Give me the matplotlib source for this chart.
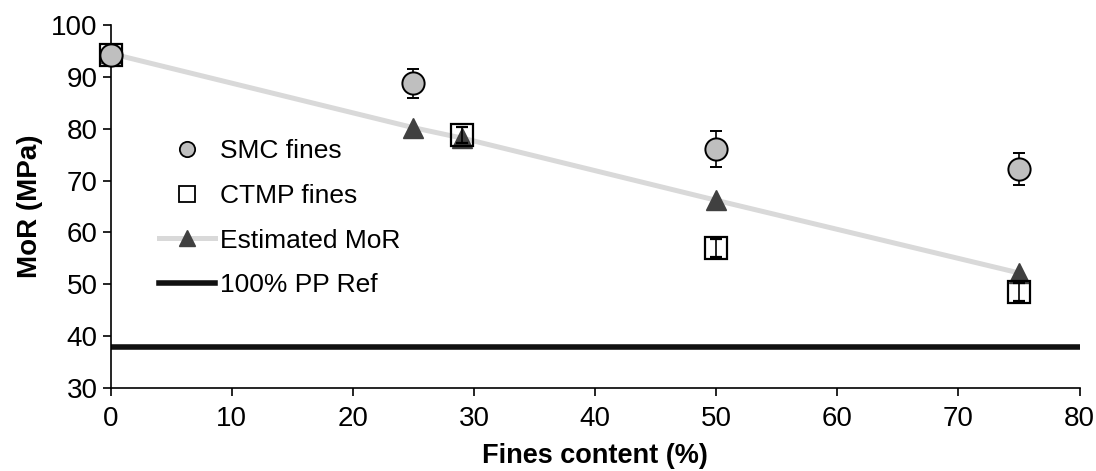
import numpy as np
import matplotlib.pyplot as plt

plt.rcParams['font.family'] = ['Liberation Sans', 'DejaVu Sans']

# measured values
smc_x = [0, 25, 50, 75]
smc_y = [94.2, 88.8, 76.1, 72.3]
smc_err = [0.0, 2.8, 3.4, 3.1]

ctmp_x = [0, 29, 50, 75]
ctmp_y = [94.2, 78.8, 57.0, 48.6]
ctmp_err = [0.0, 1.5, 1.7, 1.75]

est_x = [0, 25, 29, 50, 75]
est_y = [94.5, 80.2, 78.2, 66.2, 52.2]

pp_x = [0, 80]
pp_y = [38, 38]

fig = plt.figure(figsize=(10.96, 4.71), dpi=100)
ax = fig.add_axes([0.101, 0.176, 0.884, 0.771])

# estimated MoR line + triangles
ax.plot(est_x, est_y, color='#d9d9d9', linewidth=3.6, zorder=2)
ax.plot(est_x, est_y, linestyle='none', marker='^', markersize=14,
        color='#404040', zorder=3, clip_on=False)
ax.plot(pp_x, pp_y, color='#111111', linewidth=4, zorder=2, solid_capstyle='butt')

ax.errorbar(smc_x, smc_y, yerr=smc_err, fmt='o', markersize=16,
            markerfacecolor='#bfbfbf', markeredgecolor='black', markeredgewidth=1.4,
            ecolor='black', elinewidth=1.2, capsize=4, capthick=1.2, zorder=4,
            clip_on=False)
ax.errorbar(ctmp_x, ctmp_y, yerr=ctmp_err, fmt='s', markersize=16,
            markerfacecolor='none', markeredgecolor='black', markeredgewidth=1.6,
            ecolor='black', elinewidth=1.2, capsize=4, capthick=1.2, zorder=3.5,
            clip_on=False)

# legend proxies
h1, = ax.plot([], [], 'o', markersize=11, markerfacecolor='#bfbfbf',
              markeredgecolor='black', markeredgewidth=1.3)
h2, = ax.plot([], [], 's', markersize=11, markerfacecolor='white',
              markeredgecolor='black', markeredgewidth=1.3)
h3, = ax.plot([], [], color='#d9d9d9', linewidth=3.6, marker='^',
              markersize=12, markerfacecolor='#404040', markeredgecolor='#404040')
h4, = ax.plot([], [], color='#111111', linewidth=4)
ax.legend([h1, h2, h3, h4], ['SMC fines', 'CTMP fines', 'Estimated MoR', '100% PP Ref'],
          loc='upper left', bbox_to_anchor=(0.05, 0.685), frameon=False,
          fontsize=19, handlelength=2.1, handletextpad=0.2, labelspacing=0.78,
          borderaxespad=0, borderpad=0)

ax.set_xlim(0, 80)
ax.set_ylim(30, 100)
ax.set_xticks(np.arange(0, 81, 10))
ax.set_yticks(np.arange(30, 101, 10))
ax.tick_params(direction='out', length=6, width=1.2, labelsize=20)
ax.tick_params(axis='x', pad=7)
ax.spines['top'].set_visible(False)
ax.spines['right'].set_visible(False)
ax.spines['left'].set_linewidth(1.2)
ax.spines['bottom'].set_linewidth(1.2)
ax.set_xlabel('Fines content (%)', fontsize=19.5, fontweight='bold', labelpad=8)
ax.set_ylabel('MoR (MPa)', fontsize=20, fontweight='bold', labelpad=6)

fig.savefig('out.png', dpi=100)
